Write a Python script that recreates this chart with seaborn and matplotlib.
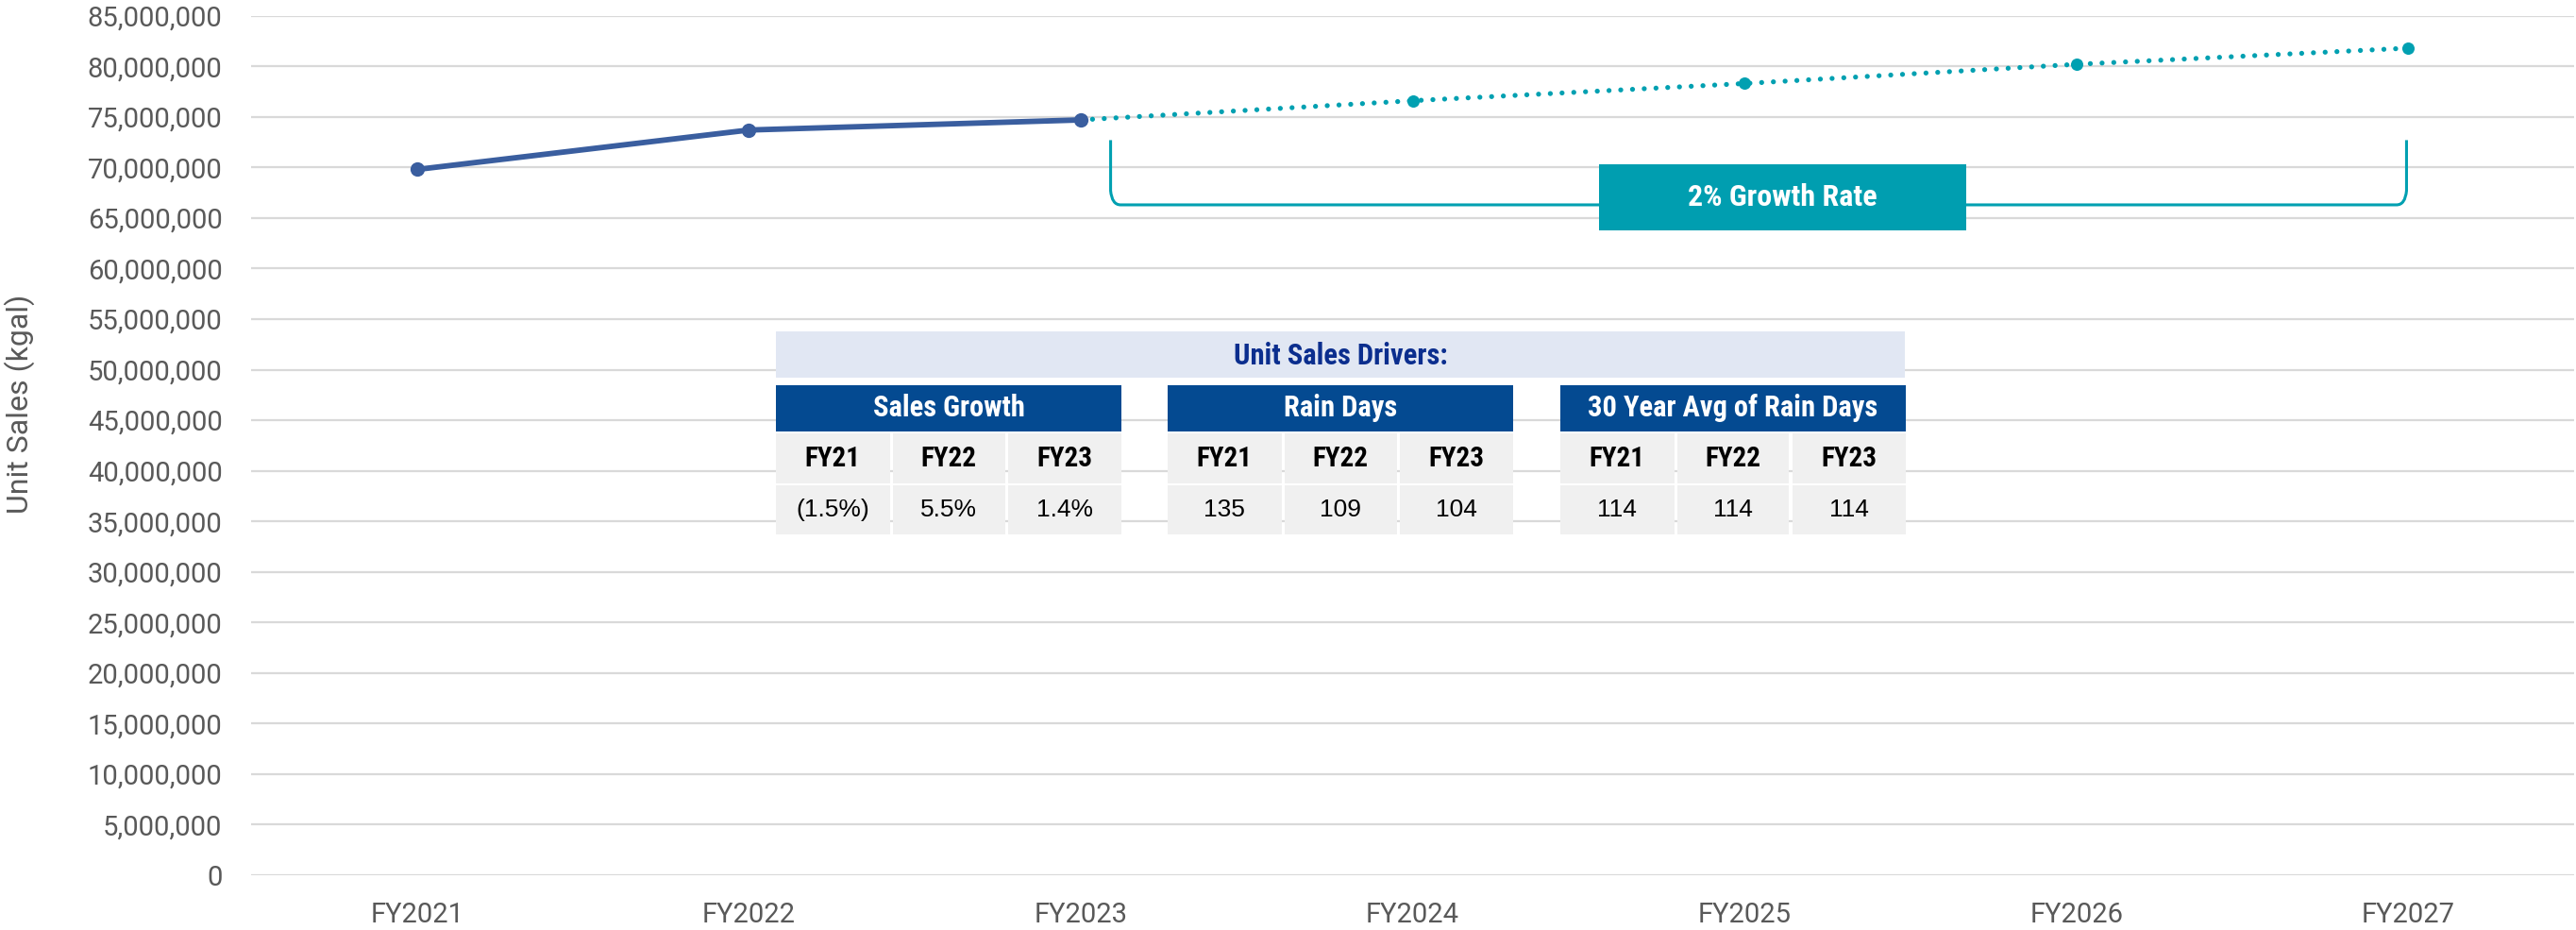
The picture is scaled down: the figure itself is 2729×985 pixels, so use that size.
import numpy as np
import pandas as pd
import matplotlib
matplotlib.use("Agg")
import matplotlib.pyplot as plt
import seaborn as sns
from matplotlib.patches import Rectangle, PathPatch
from matplotlib.path import Path
from matplotlib.ticker import FuncFormatter
from matplotlib import font_manager as fm

# ---------------- data ----------------
years = ["FY2021", "FY2022", "FY2023", "FY2024", "FY2025", "FY2026", "FY2027"]
actual_years = ["FY2021", "FY2022", "FY2023"]
actual_sales = [69.8e6, 73.7e6, 74.7e6]
forecast_years = ["FY2023", "FY2024", "FY2025", "FY2026", "FY2027"]
forecast_sales = [74.7e6, 76.6e6, 78.3e6, 80.2e6, 81.8e6]
y_ticks = list(range(0, 85_000_001, 5_000_000))

growth_label = "2% Growth Rate"
drivers_title = "Unit Sales Drivers:"
block_titles = ["Sales Growth", "Rain Days", "30 Year Avg of Rain Days"]
fy_labels = ["FY21", "FY22", "FY23"]
sales_growth = ["(1.5%)", "5.5%", "1.4%"]
rain_days = ["135", "109", "104"]
avg_rain_days = ["114", "114", "114"]
block_values = [sales_growth, rain_days, avg_rain_days]

# ---------------- style ----------------
sns.set_style("white")
names = {f.name for f in fm.fontManager.ttflist}
def pick(cands, default="DejaVu Sans"):
    for c in cands:
        if c in names:
            return c
    return default
BASE = pick(["Roboto", "Liberation Sans"])
NARROW = pick(["Liberation Sans Narrow", "Arial Narrow", "Roboto Condensed",
               "Archivo Narrow", "PT Sans Narrow", "Liberation Sans"])
ARIAL = pick(["Liberation Sans", "Arimo"])
plt.rcParams["font.family"] = [BASE, "DejaVu Sans"]

BLUE = "#3A5E9F"
TEAL = "#00A0B1"
GRID = "#D9D9D9"
TICK = "#595959"
NAVY_HDR = "#044A91"
NAVY_TXT = "#0B2E8E"
BAND = "#E1E7F3"
CELL = "#F0F0F0"

W, H = 2729, 985
fig = plt.figure(figsize=(W / 100, H / 100), dpi=100)
ax = fig.add_axes([266 / W, 1 - 927 / H, (2727 - 266) / W, (927 - 16.7) / H])

df_act = pd.DataFrame({"year": actual_years, "sales": actual_sales})
df_act["pos"] = [years.index(y) for y in actual_years]
df_fc = pd.DataFrame({"year": forecast_years, "sales": forecast_sales})
df_fc["pos"] = [years.index(y) for y in forecast_years]

sns.lineplot(data=df_fc, x="pos", y="sales", ax=ax, color=TEAL, lw=3.8,
             marker="o", markersize=9.4, markeredgewidth=0, zorder=3)
fc_line = ax.lines[-1]
fc_line.set_linestyle((0, (0.01, 2.35)))
fc_line.set_dash_capstyle("round")
sns.lineplot(data=df_act, x="pos", y="sales", ax=ax, color=BLUE, lw=4.2,
             marker="o", markersize=11, markeredgewidth=0, zorder=4)

ax.set_xlim(-0.5, len(years) - 0.5)
ax.set_ylim(0, 85e6)
ax.set_yticks(y_ticks)
ax.yaxis.set_major_formatter(FuncFormatter(lambda v, p: f"{v:,.0f}"))
ax.set_xticks(range(len(years)))
ax.set_xticklabels(years)
ax.set_xlabel("")
ax.set_ylabel("Unit Sales (kgal)", fontsize=23, color=TICK)
ax.yaxis.set_label_coords(-0.093, 0.548)
ax.tick_params(axis="both", length=0, labelsize=21, labelcolor=TICK)
ax.tick_params(axis="y", pad=22)
ax.tick_params(axis="x", pad=20)
ax.grid(axis="y", color=GRID, lw=1.6)
ax.grid(axis="x", visible=False)
ax.set_axisbelow(True)
for s in ax.spines.values():
    s.set_visible(False)

# ---------------- growth bracket ----------------
bx0, bx1 = 2.09, 5.995
btop, bbot = 72.7e6, 66.3e6
cx, cy = 0.03, 1.4e6
verts = [(bx0, btop), (bx0, bbot + cy), (bx0 + 0.004, bbot), (bx0 + cx, bbot),
         (bx1 - cx, bbot), (bx1 - 0.004, bbot), (bx1, bbot + cy), (bx1, btop)]
codes = [Path.MOVETO, Path.LINETO, Path.CURVE3, Path.CURVE3,
         Path.LINETO, Path.CURVE3, Path.CURVE3, Path.LINETO]
ax.add_patch(PathPatch(Path(verts, codes), fill=False, edgecolor=TEAL, lw=2.2, zorder=2))
ax.add_patch(Rectangle((3.562, 63.73e6), 1.107, 6.54e6, facecolor="#009EB0",
                       edgecolor="none", zorder=5))
ax.text(4.115, 67.0e6, growth_label, ha="center", va="center", color="white",
        fontsize=23, fontweight="bold", family=[NARROW, "DejaVu Sans"], zorder=6)

# ---------------- drivers table (figure pixels) ----------------
def fx(x):
    return x / W

def fy(y):
    return 1 - y / H

def frect(x0, y0, x1, y1, color):
    fig.add_artist(Rectangle((fx(x0), fy(y1)), fx(x1) - fx(x0), fy(y0) - fy(y1),
                             transform=fig.transFigure, facecolor=color,
                             edgecolor="none", zorder=10))

def ftext(x, y, s, **kw):
    fig.text(fx(x), fy(y), s, ha="center", va="center", zorder=11, **kw)

frect(822, 351, 2018, 400, BAND)
ftext(1420, 377, drivers_title, color=NAVY_TXT, fontsize=22, fontweight="bold",
      family=[NARROW, "DejaVu Sans"])

block_x = [822, 1237, 1653]
bw = 366
cw = bw / 3
for bx, title, vals in zip(block_x, block_titles, block_values):
    frect(bx, 408, bx + bw, 457, NAVY_HDR)
    ftext(bx + bw / 2, 432, title, color="white", fontsize=22, fontweight="bold",
          family=[NARROW, "DejaVu Sans"])
    for j in range(3):
        x0 = bx + j * cw + (1.5 if j > 0 else 0)
        x1 = bx + (j + 1) * cw - (1.5 if j < 2 else 0)
        frect(x0, 459, x1, 512, CELL)
        frect(x0, 514, x1, 566, CELL)
        ftext((x0 + x1) / 2, 486, fy_labels[j], color="black", fontsize=21,
              fontweight="bold", family=[NARROW, "DejaVu Sans"])
        ftext((x0 + x1) / 2, 540, vals[j], color="black", fontsize=19,
              family=[ARIAL, "DejaVu Sans"])

fig.savefig("out.png", dpi=100)
